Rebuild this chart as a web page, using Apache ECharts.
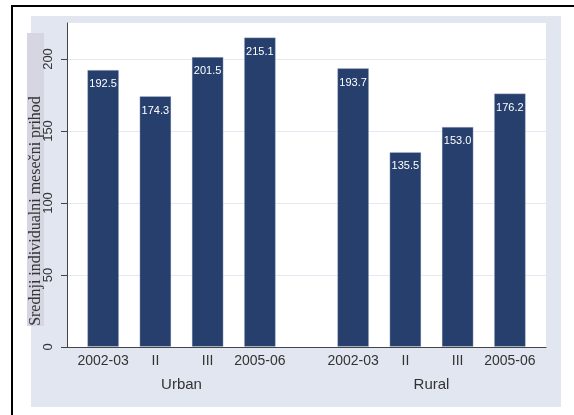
<!DOCTYPE html>
<html>
<head>
<meta charset="utf-8">
<script src="https://cdn.jsdelivr.net/npm/echarts@6/dist/echarts.min.js"></script>
<style>html,body{margin:0;padding:0;background:#fff}#c{width:574px;height:415px}</style>
</head>
<body>
<div id="c"></div>
<script>
var categories = ['2002-03', 'II', 'III', '2005-06'];
var groupNames = ['Urban', 'Rural'];
var urbanValues = [192.5, 174.3, 201.5, 215.1];
var ruralValues = [193.7, 135.5, 153.0, 176.2];
var yTicks = [0, 50, 100, 150, 200];
var yTitle = 'Srednji individualni mesečni prihod';

var font = 'Liberation Sans, Arial, sans-serif';
var barColor = '#273f6c';
var chart = echarts.init(document.getElementById('c'), null, {renderer: 'canvas'});

function barSeries(idx, values) {
  return {
    type: 'bar', xAxisIndex: idx, yAxisIndex: idx, data: values,
    barWidth: 32,
    itemStyle: {color: barColor, borderColor: 'rgba(200,210,230,0.35)', borderWidth: 1},
    label: {show: true, position: 'insideTop', distance: 9, color: '#fff', fontSize: 11, fontFamily: font,
      formatter: function (p) { return p.value.toFixed(1); }},
    silent: true, animation: false
  };
}
function hiddenY(gi) {
  return {type: 'value', gridIndex: gi, min: 0, max: 225, show: false, splitLine: {show: false}};
}
function groupX(gi, name) {
  return {type: 'category', gridIndex: gi, data: categories,
    axisLine: {show: false}, axisTick: {show: false},
    axisLabel: {interval: 0, fontSize: 14, color: '#333', fontFamily: font, margin: 7},
    name: name, nameLocation: 'middle', nameGap: 30,
    nameTextStyle: {fontSize: 15, color: '#333', fontFamily: font}};
}

chart.setOption({
  animation: false,
  graphic: [
    {type: 'rect', shape: {x: 31, y: 16, width: 530, height: 391}, style: {fill: '#e1e6f0'}, z: -10},
    {type: 'rect', shape: {x: 67, y: 23, width: 479, height: 324}, style: {fill: '#ffffff'}, z: -9},
    {type: 'rect', shape: {x: 27, y: 33, width: 17, height: 293}, style: {fill: '#d5d6e2'}, z: -8},
    {type: 'text', x: 36, y: 211, rotation: Math.PI / 2,
      style: {text: yTitle, fontSize: 16, fontFamily: 'Liberation Serif, Times New Roman, serif', fill: '#333',
        align: 'center', verticalAlign: 'middle'}, z: 10},
    {type: 'line', shape: {x1: 12, y1: 6, x2: 574, y2: 6}, style: {stroke: '#000', lineWidth: 2}, z: 10},
    {type: 'line', shape: {x1: 12, y1: 5, x2: 12, y2: 415}, style: {stroke: '#000', lineWidth: 2}, z: 10}
  ],
  grid: [
    {left: 67, top: 23, width: 479, height: 324},
    {left: 77, top: 23, width: 209, height: 324},
    {left: 327, top: 23, width: 209, height: 324}
  ],
  xAxis: [
    {type: 'category', gridIndex: 0, data: [''], axisLabel: {show: false}, axisTick: {show: false},
      axisLine: {show: true, lineStyle: {color: '#444', width: 1}}, z: 5},
    groupX(1, groupNames[0]),
    groupX(2, groupNames[1])
  ],
  yAxis: [
    {type: 'value', gridIndex: 0, min: 0, max: 225, interval: 50,
      axisLine: {show: true, lineStyle: {color: '#444', width: 1}},
      axisTick: {show: true, length: 6, lineStyle: {color: '#444'}, customValues: yTicks},
      axisLabel: {rotate: 90, fontSize: 13, color: '#333', fontFamily: font, margin: 12, customValues: yTicks},
      splitLine: {show: true, lineStyle: {color: '#e6e9f2', width: 1}}},
    hiddenY(1), hiddenY(2)
  ],
  series: [barSeries(1, urbanValues), barSeries(2, ruralValues)]
});
</script>
</body>
</html>
